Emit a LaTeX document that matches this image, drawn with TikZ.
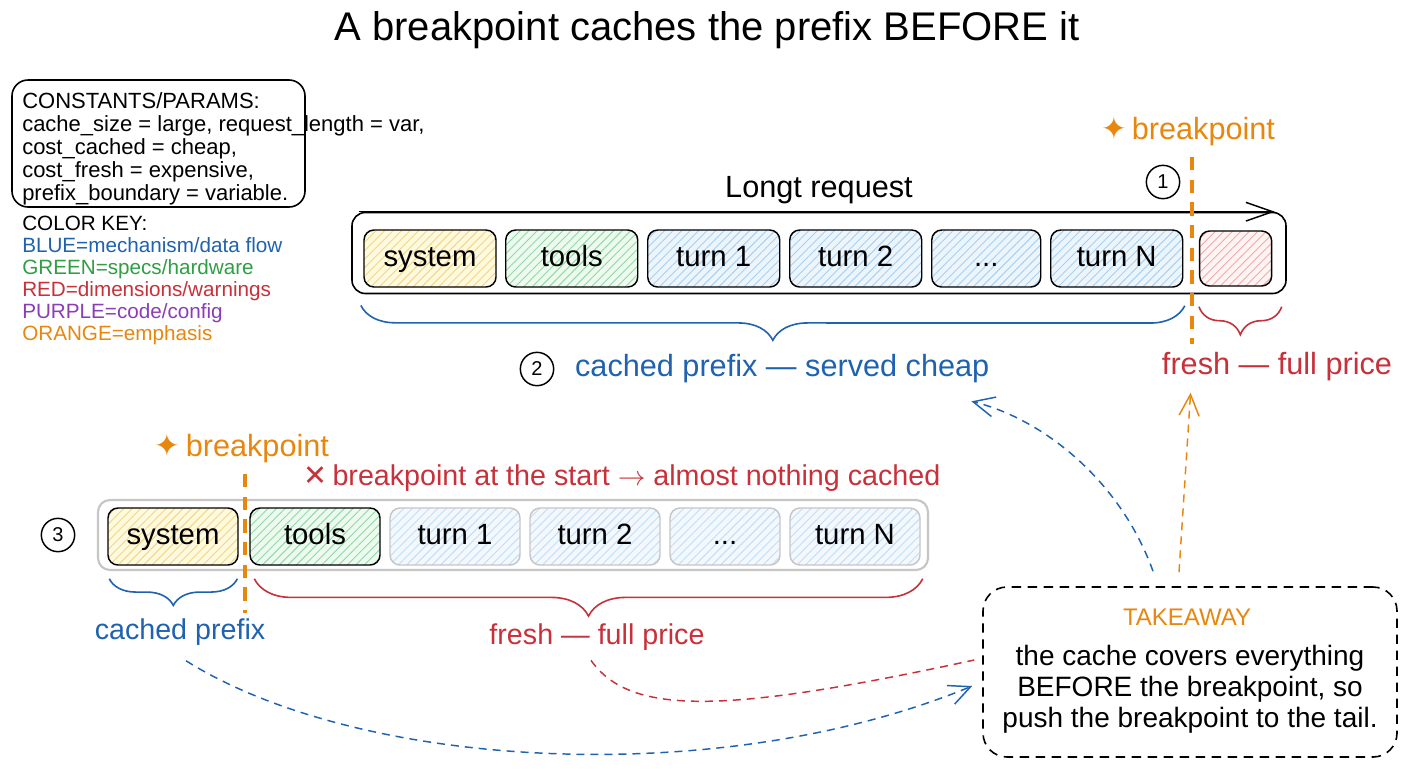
\documentclass[tikz,border=0pt]{standalone}
\usepackage{fontspec}
\setmainfont{Liberation Sans}
\newfontfamily\symfont{DejaVu Sans}
\usetikzlibrary{positioning,patterns.meta,decorations.pathreplacing,arrows.meta}

\definecolor{inkblue}{HTML}{1F63B0}
\definecolor{inkgreen}{HTML}{2F9E44}
\definecolor{inkred}{HTML}{C8303A}
\definecolor{inkpurple}{HTML}{8B3DB8}
\definecolor{inkorange}{HTML}{E8870E}
\definecolor{sysfill}{HTML}{FFF9DE}
\definecolor{syshatch}{HTML}{F0D68A}
\definecolor{toolfill}{HTML}{EDFAEF}
\definecolor{toolhatch}{HTML}{93D8A2}
\definecolor{turnfill}{HTML}{EDF5FC}
\definecolor{turnhatch}{HTML}{A8D0F0}
\definecolor{freshfill}{HTML}{FFF4F4}
\definecolor{freshhatch}{HTML}{F2A9A9}
\definecolor{fadegray}{HTML}{C6C6C6}

\newcommand{\titlefont}{\fontsize{30}{36}\selectfont}
\newcommand{\segfont}{\fontsize{22}{26}\selectfont}
\newcommand{\lblfont}{\fontsize{23}{27}\selectfont}
\newcommand{\midfont}{\fontsize{21.5}{25}\selectfont}
\newcommand{\paramfont}{\fontsize{16.5}{17.25}\selectfont}
\newcommand{\keyfont}{\fontsize{15.5}{16.5}\selectfont}
\newcommand{\notefont}{\fontsize{21}{23.25}\selectfont}

\tikzset{
  hatched/.style 2 args={preaction={fill=#1}, pattern={Lines[angle=45,distance=4.5pt,line width=0.7pt]}, pattern color=#2},
}

\begin{document}
\begin{tikzpicture}[x=0.75pt, y=-0.75pt,
    seg/.style={draw=black, line width=1.1pt, rounded corners=7.5pt, minimum width=99pt, minimum height=42.75pt, inner sep=0pt, text height=11.5pt, text depth=0pt, font=\segfont},
    fadeseg/.style={seg, draw=fadegray},
    num/.style={circle, draw, line width=1.1pt, minimum size=25pt, inner sep=0pt, font=\fontsize{15}{18}\selectfont},
    bpline/.style={draw=inkorange, line width=3pt, dash pattern=on 10pt off 7pt},
    flowdash/.style={line width=1.1pt, dash pattern=on 6pt off 4.5pt, -{Straight Barb[length=16pt,width=15pt]}},
    plaindash/.style={line width=1.1pt, dash pattern=on 6pt off 4.5pt},
    curly/.style={decorate, line width=1.2pt, decoration={brace, mirror, amplitude=#1}}
]
\fill[white] (0,0) rectangle (1408,768);
\useasboundingbox (0,0) rectangle (1408,768);

\node[font=\titlefont] (title) at (707,30) {A breakpoint caches the prefix BEFORE it};

% constants and colour key
\draw[line width=1.2pt, rounded corners=12pt] (12,80) rectangle (305,207);
\node[anchor=north west, inner sep=0pt, align=left, font=\paramfont] (params) at (22,92)
  {CONSTANTS/PARAMS:\\cache\_size = large, request\_length = var,\\cost\_cached = cheap,\\cost\_fresh = expensive,\\prefix\_boundary = variable.};
\node[anchor=north west, inner sep=0pt, align=left, font=\keyfont] (colorkey) at (22,216)
  {COLOR KEY:\\\textcolor{inkblue}{BLUE=mechanism/data flow}\\\textcolor{inkgreen}{GREEN=specs/hardware}\\\textcolor{inkred}{RED=dimensions/warnings}\\\textcolor{inkpurple}{PURPLE=code/config}\\\textcolor{inkorange}{ORANGE=emphasis}};

% long request, breakpoint at the tail
\node[draw, line width=1.2pt, rounded corners=10pt, minimum width=700.5pt, minimum height=60.75pt] (reqA) at (819,253) {};
\node[seg, hatched={sysfill}{syshatch}] (sysA) at (430,258.5) {system};
\node[seg, hatched={toolfill}{toolhatch}, right=6.4pt of sysA] (toolsA) {tools};
\node[seg, hatched={turnfill}{turnhatch}, right=6.4pt of toolsA] (turn1A) {turn 1};
\node[seg, hatched={turnfill}{turnhatch}, right=6.4pt of turn1A] (turn2A) {turn 2};
\node[seg, hatched={turnfill}{turnhatch}, minimum width=81.75pt, right=6.4pt of turn2A] (dotsA) {...};
\node[seg, hatched={turnfill}{turnhatch}, right=6.4pt of dotsA] (turnNA) {turn N};
\node[seg, hatched={freshfill}{freshhatch}, minimum width=54pt, minimum height=41.25pt, right=11.6pt of turnNA] (freshA) {};

\draw[line width=1.1pt, -{Straight Barb[length=20pt,width=14pt]}] ([xshift=6pt]reqA.north west) -- ([xshift=-9pt]reqA.north east);
\node[font=\lblfont] (reqlbl) at (819,190) {Longt request};
\node[num] (n1) at (1163,182) {1};

\coordinate (bpAtop) at (1192,157);
\coordinate (bpAbot) at (1192,344);
\draw[bpline] (bpAtop) -- (bpAbot);
\node[font=\lblfont, text=inkorange] (bplblA) at (1188,131) {{\symfont ✦}\,breakpoint};

\draw[curly=26pt, draw=inkblue] ([xshift=-2pt,yshift=-13.5pt]sysA.south west) -- ([xshift=1pt,yshift=-13.5pt]turnNA.south east);
\draw[curly=21pt, draw=inkred] ([yshift=-15pt]freshA.south west) -- ([xshift=7pt,yshift=-15pt]freshA.south east);

\node[num] (n2) at (537,369) {2};
\node[font=\lblfont, text=inkblue, right=12pt of n2] (cachedA) {cached prefix — served cheap};
\node[font=\lblfont, text=inkred] (freshlblA) at (1277,367) {fresh — full price};

% breakpoint at the start
\node[draw=fadegray, line width=1.6pt, rounded corners=9pt, minimum width=622.5pt, minimum height=52.5pt] (reqB) at (513,535) {};
\node[seg, minimum width=97.5pt, hatched={sysfill}{syshatch}] (sysB) at (173,536.5) {system};
\node[seg, minimum width=97.5pt, hatched={toolfill}{toolhatch}, right=7.9pt of sysB] (toolsB) {tools};
\node[fadeseg, minimum width=97.5pt, hatched={turnfill!70}{turnhatch!70}, right=6.4pt of toolsB] (turn1B) {turn 1};
\node[fadeseg, minimum width=97.5pt, hatched={turnfill!70}{turnhatch!70}, right=6.4pt of turn1B] (turn2B) {turn 2};
\node[fadeseg, minimum width=82.5pt, hatched={turnfill!70}{turnhatch!70}, right=6.4pt of turn2B] (dotsB) {...};
\node[fadeseg, minimum width=97.5pt, hatched={turnfill!70}{turnhatch!70}, right=6.4pt of dotsB] (turnNB) {turn N};
\node[num] (n3) at (58,535) {3};

\coordinate (bpBtop) at (245,474);
\coordinate (bpBbot) at (245,613);
\draw[bpline] (bpBtop) -- (bpBbot);
\node[font=\lblfont, text=inkorange] (bplblB) at (242,448) {{\symfont ✦}\,breakpoint};
\node[font=\midfont, text=inkred] (warnB) at (622,478) {{\symfont ✕}\,breakpoint at the start $\rightarrow$ almost nothing cached};

\draw[curly=20pt, draw=inkblue] ([xshift=1.5pt,yshift=-9.75pt]sysB.south west) -- ([xshift=-1pt,yshift=-9.75pt]sysB.south east);
\draw[curly=28pt, draw=inkred] ([xshift=3.75pt,yshift=-9.75pt]toolsB.south west) -- ([xshift=1.5pt,yshift=-9.75pt]turnNB.south east);
\node[font=\midfont, text=inkblue] (cachedB) at (180,632) {cached prefix};
\node[font=\midfont, text=inkred] (freshB) at (597,637) {fresh — full price};

% takeaway
\node[draw, line width=1.2pt, dash pattern=on 7pt off 5pt, rounded corners=18pt, minimum width=310.5pt, minimum height=127.5pt] (take) at (1190,672) {};
\node[font=\fontsize{18}{21}\selectfont, text=inkorange] (takehead) at (1187,617) {TAKEAWAY};
\node[font=\notefont, align=center] (takenote) at (1190,689) {the cache covers everything\\BEFORE the breakpoint, so\\push the breakpoint to the tail.};

\draw[flowdash, draw=inkblue] ([xshift=-27.75pt,yshift=11.25pt]take.north) .. controls +(-33,-92) and +(70,17) .. ([xshift=-17pt,yshift=-10pt]cachedA.south east);
\draw[flowdash, draw=inkorange] ([xshift=-8.25pt,yshift=10.5pt]take.north) -- ([xshift=25pt,yshift=-5pt]freshlblA.south west);
\draw[plaindash, draw=inkred] ([xshift=-4.5pt,yshift=-4pt]freshB.south) .. controls (630,715) and (720,715) .. ([xshift=-6pt,yshift=9pt]take.west);
\draw[flowdash, draw=inkblue] ([xshift=4.5pt,yshift=-8pt]cachedB.south) .. controls (360,770) and (720,790) .. ([xshift=-7.5pt,yshift=-10.5pt]take.west);
\end{tikzpicture}
\end{document}
